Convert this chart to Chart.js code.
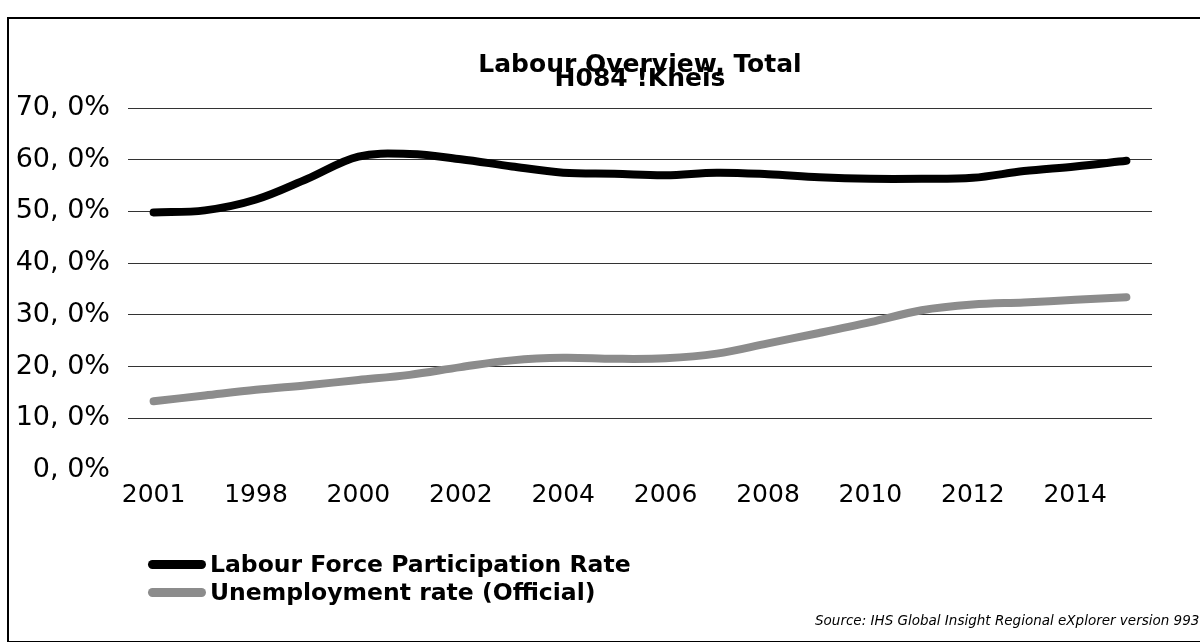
<!DOCTYPE html>
<html>
<head>
<meta charset="utf-8">
<script src="https://cdn.jsdelivr.net/npm/chart.js@4/dist/chart.umd.min.js"></script>
<style>
    html, body { margin: 0; padding: 0; background: #fff; overflow: hidden; }
    #wrap { position: relative; width: 1200px; height: 642px; }
    #frame { position: absolute; left: 7px; top: 17px; width: 1200px; height: 622px;
             border-top: 2px solid #000; border-left: 2px solid #000; border-bottom: 1px solid #000; }
    #legend { position: absolute; left: 148px; top: 550px; font-family: 'DejaVu Sans', sans-serif;
              font-weight: bold; font-size: 23.5px; color: #000; }
    .leg-row { display: flex; align-items: center; height: 28px; white-space: nowrap; }
    .leg-line { display: inline-block; width: 58px; height: 9px; border-radius: 5px; margin-right: 4px; }
    #source { position: absolute; left: 815px; top: 612px; font-family: 'DejaVu Sans', sans-serif;
              font-style: italic; font-size: 13.5px; color: #000; white-space: nowrap; }
</style>
</head>
<body>
<div id="wrap">
    <div id="frame"></div>
    <canvas id="chart" width="1200" height="642"></canvas>
    <div id="legend"></div>
    <div id="source">Source: IHS Global Insight Regional eXplorer version 993</div>
</div>
<script>
// categories (one per year) and the labels printed under the axis
const years = ['1996', '1997', '1998', '1999', '2000', '2001', '2002', '2003', '2004', '2005',
               '2006', '2007', '2008', '2009', '2010', '2011', '2012', '2013', '2014', '2015'];
const xTickLabels = ['2001', '1998', '2000', '2002', '2004', '2006', '2008', '2010', '2012', '2014'];

const labourForceRate = [49.8, 50.2, 52.3, 56.3, 60.6, 61.1, 60.1, 58.7, 57.5, 57.3,
                         57.0, 57.5, 57.2, 56.6, 56.3, 56.3, 56.5, 57.8, 58.7, 59.8];
const unemploymentRate = [13.3, 14.4, 15.5, 16.4, 17.4, 18.4, 19.9, 21.2, 21.7, 21.5,
                          21.6, 22.5, 24.5, 26.5, 28.6, 30.9, 32.0, 32.4, 32.9, 33.4];

const titleLines = ['Labour Overview, Total', 'H084 !Kheis'];
const seriesNames = ['Labour Force Participation Rate', 'Unemployment rate (Official)'];
const seriesColors = ['#000000', '#8c8c8c'];

const ctx = document.getElementById('chart').getContext('2d');

const chart = new Chart(ctx, {
    type: 'line',
    data: {
        labels: years,
        datasets: [
            {
                label: seriesNames[0],
                data: labourForceRate,
                borderColor: seriesColors[0],
                borderWidth: 8,
                borderCapStyle: 'round',
                borderJoinStyle: 'round',
                pointRadius: 0,
                tension: 0.35,
                fill: false
            },
            {
                label: seriesNames[1],
                data: unemploymentRate,
                borderColor: seriesColors[1],
                borderWidth: 8,
                borderCapStyle: 'round',
                borderJoinStyle: 'round',
                pointRadius: 0,
                tension: 0.35,
                fill: false
            }
        ]
    },
    options: {
        responsive: false,
        animation: false,
        layout: { padding: { left: 8, right: 48, top: 0, bottom: 0 } },
        plugins: {
            legend: { display: false },
            tooltip: { enabled: false },
            title: {
                display: true,
                text: titleLines,
                fullSize: false,
                color: '#000',
                font: { family: 'DejaVu Sans', size: 25, weight: 'bold', lineHeight: 0.56 },
                padding: { top: 58, bottom: 22 }
            }
        },
        scales: {
            x: {
                offset: true,
                grid: { display: false, drawTicks: false },
                border: { display: false },
                ticks: {
                    autoSkip: false,
                    maxRotation: 0,
                    padding: 10,
                    color: '#000',
                    font: { family: 'DejaVu Sans', size: 25 },
                    callback: (v, i) => (i % 2 === 0 ? xTickLabels[i / 2] : '')
                },
                afterFit: (s) => { s.height = 172; }
            },
            y: {
                min: 0,
                max: 70,
                grid: {
                    drawTicks: false,
                    lineWidth: 1,
                    color: (c) => (c.tick && c.tick.value === 0 ? 'rgba(0,0,0,0)' : '#333')
                },
                border: { display: false },
                ticks: {
                    stepSize: 10,
                    padding: 18,
                    color: '#000',
                    font: { family: 'DejaVu Sans', size: 27 },
                    callback: (v) => v + ', 0%'
                },
                afterFit: (s) => { s.width = 120; }
            }
        }
    }
});

// legend stacked under the plot, built from the chart's own datasets
const legendBox = document.getElementById('legend');
chart.data.datasets.forEach(ds => {
    const row = document.createElement('div');
    row.className = 'leg-row';
    row.innerHTML = `<span class="leg-line" style="background:${ds.borderColor}"></span><span>${ds.label}</span>`;
    legendBox.appendChild(row);
});
</script>
</body>
</html>
